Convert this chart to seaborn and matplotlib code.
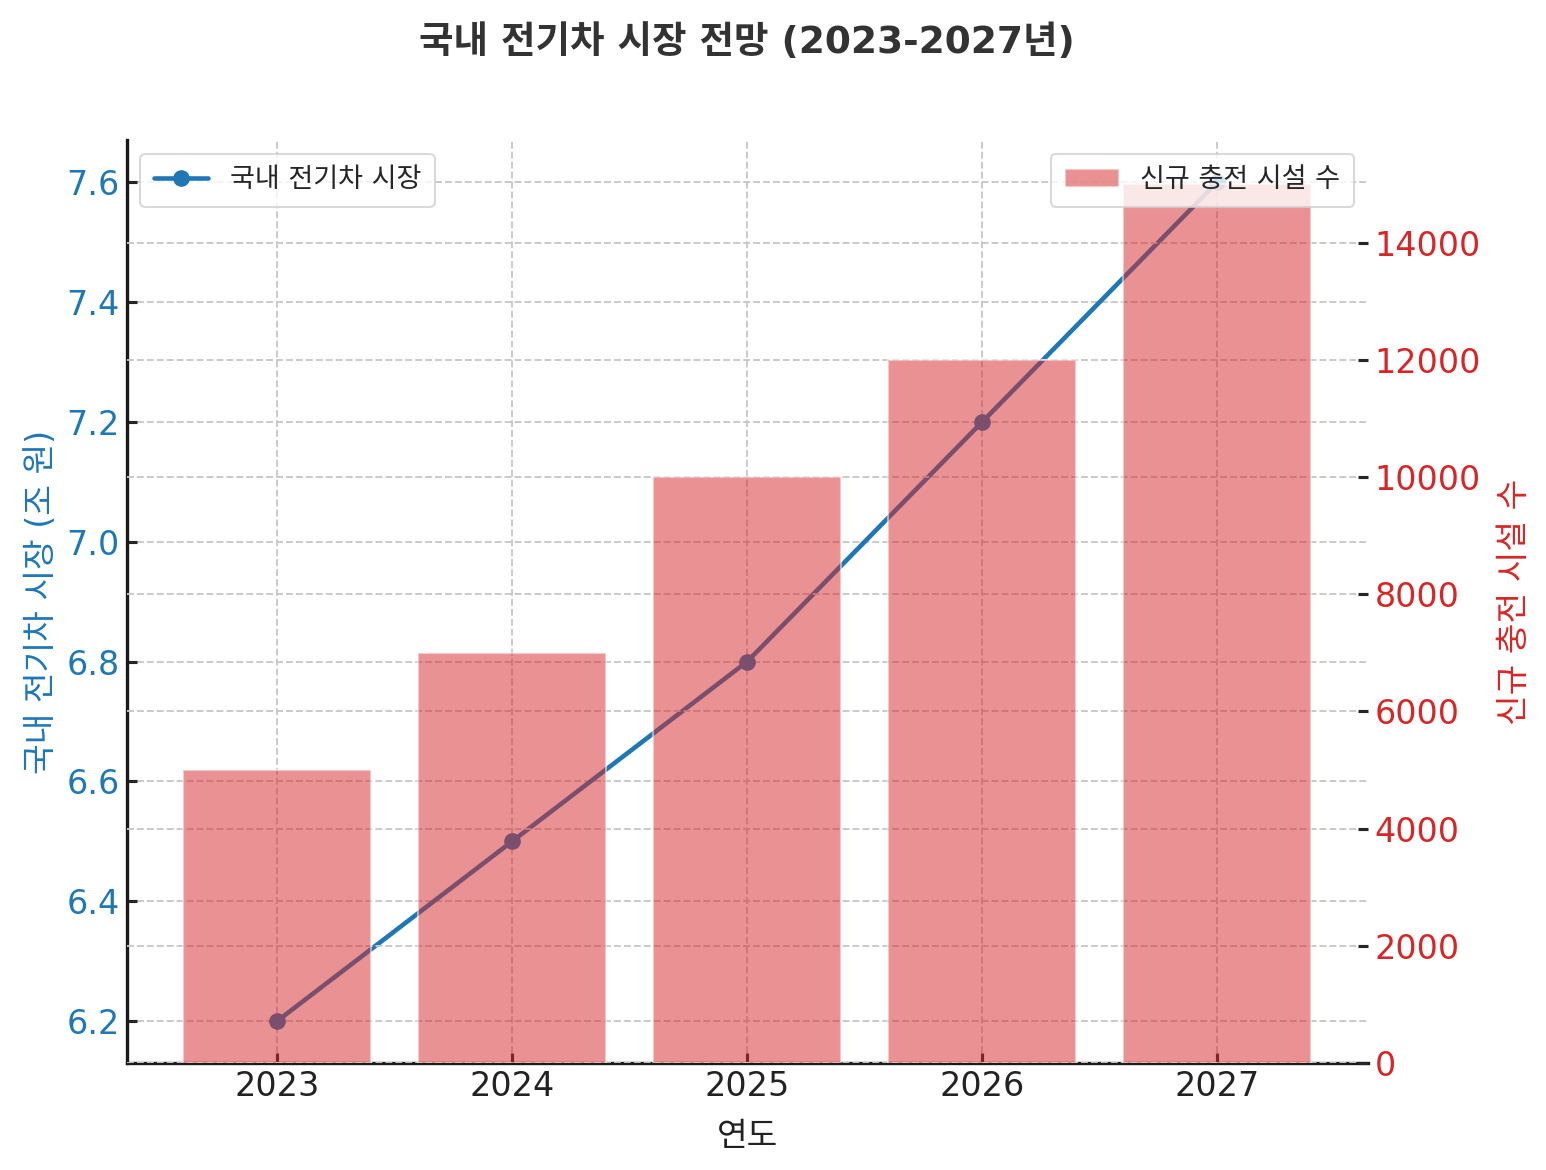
import matplotlib
matplotlib.use("Agg")
import matplotlib.pyplot as plt
import pandas as pd
import seaborn as sns

# 데이터
years = ["2023", "2024", "2025", "2026", "2027"]
market_size = [6.2, 6.5, 6.8, 7.2, 7.6]
chargers = [5000, 7000, 10000, 12000, 15000]

title = "국내 전기차 시장 전망 (2023-2027년)"
line_label = "국내 전기차 시장"
left_label = "국내 전기차 시장 (조 원)"
bar_label = "신규 충전 시설 수"
x_label = "연도"

df = pd.DataFrame({"year": years, "market": market_size, "chargers": chargers})

sns.set_theme(style="ticks")
plt.rcParams["font.family"] = ["DejaVu Sans", "Noto Sans CJK KR"]
plt.rcParams["axes.unicode_minus"] = False

blue = "#1f77b4"
red = "#d62728"

fig, ax1 = plt.subplots(figsize=(10.313, 7.8), dpi=150)
fig.subplots_adjust(left=0.082, right=0.884, top=0.880, bottom=0.0915)

# 선 그래프 (왼쪽 축)
sns.lineplot(data=df, x="year", y="market", ax=ax1, color=blue, marker="o",
             markersize=8, linewidth=2.2, markeredgewidth=0, label=line_label)
ax1.set_ylabel(left_label, color=blue, fontsize=16)
ax1.set_xlabel(x_label, fontsize=16, color="#222222", labelpad=8)
ax1.tick_params(axis="y", labelcolor=blue, labelsize=16, direction="in", length=5, width=1.5)
ax1.tick_params(axis="x", labelsize=16, labelcolor="#222222", direction="in", length=5, width=1.5)
ax1.grid(True, linestyle="--", color="#c8c8c8", linewidth=0.9)
for s in ["top", "right"]:
    ax1.spines[s].set_visible(False)
for s in ["left", "bottom"]:
    ax1.spines[s].set_color("#1a1a1a")
    ax1.spines[s].set_linewidth(1.6)

# 막대 그래프 (오른쪽 축)
ax2 = ax1.twinx()
sns.barplot(data=df, x="year", y="chargers", ax=ax2, color=red, alpha=0.5,
            saturation=1, width=0.8, label=bar_label)
ax2.set_ylim(0, 15750)
ax2.set_ylabel(bar_label, color=red, fontsize=16, labelpad=8)
ax2.tick_params(axis="y", labelcolor=red, labelsize=16, direction="in", length=5, width=1.5)
ax2.grid(True, axis="y", linestyle="--", color="#c8c8c8", linewidth=0.9)
for s in ["top", "right", "left", "bottom"]:
    ax2.spines[s].set_visible(False)
ax2.set_xlabel("")

ax1.set_xlim(-0.64, 4.64)
ax1.legend(loc="upper left", fontsize=13, frameon=True, edgecolor="#d0d0d0",
           framealpha=0.8, borderpad=0.5)
ax2.legend(loc="upper right", fontsize=13, frameon=True, edgecolor="#d0d0d0",
           framealpha=0.8, borderpad=0.5)

ax1.set_title(title, fontsize=18, fontweight="bold", color="#333333", pad=42)

fig.savefig("out.png", dpi=150)
